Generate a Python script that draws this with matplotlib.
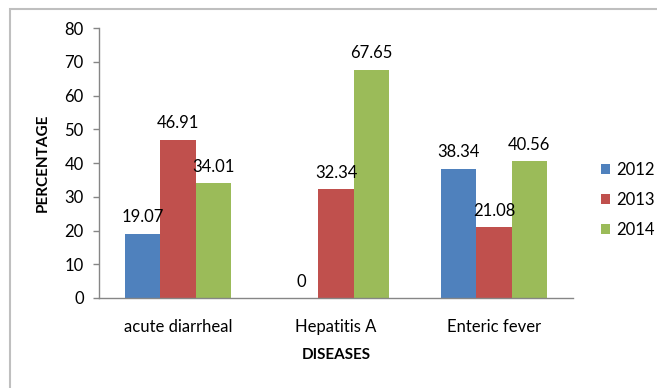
import matplotlib
matplotlib.use("Agg")
import matplotlib.pyplot as plt
from matplotlib.patches import Rectangle
import numpy as np

plt.rcParams['font.family'] = ['Lato', 'DejaVu Sans']

categories = ["acute diarrheal", "Hepatitis A", "Enteric fever"]
years = ["2012", "2013", "2014"]
values_2012 = [19.07, 0, 38.34]
values_2013 = [46.91, 32.34, 21.08]
values_2014 = [34.01, 67.65, 40.56]
y_ticks = [0, 10, 20, 30, 40, 50, 60, 70, 80]

series = [values_2012, values_2013, values_2014]
colors = ["#4F81BD", "#C0504D", "#9BBB59"]
axis_gray = "#868686"
fs = 12

fig = plt.figure(figsize=(6.57, 3.88), dpi=100)
ax = fig.add_axes([99/657, 1 - 298/388, 474/657, 270/388])

x = np.arange(len(categories))
width = 0.667 / 3
for i, (vals, col, yr) in enumerate(zip(series, colors, years)):
    pos = x + (i - 1) * width
    bars = ax.bar(pos, vals, width, color=col, label=yr, linewidth=0)
    for b, v in zip(bars, vals):
        ax.annotate(f"{v:g}", (b.get_x() + b.get_width() / 2, v),
                    xytext=(0, 6), textcoords="offset points",
                    ha="center", va="bottom", fontsize=fs, color="#000000")

ax.set_xlim(-0.5, 2.5)
ax.set_ylim(0, 80)
ax.set_yticks(y_ticks)
ax.set_xticks(x)
ax.set_xticklabels(categories)

for s in ("top", "right"):
    ax.spines[s].set_visible(False)
for s in ("left", "bottom"):
    ax.spines[s].set_color(axis_gray)
    ax.spines[s].set_linewidth(1.0)

ax.tick_params(axis="y", direction="out", length=4, width=1, color=axis_gray,
               labelsize=fs, pad=7)
ax.tick_params(axis="x", length=0, labelsize=fs, pad=15)

ax.set_ylabel("PERCENTAGE", fontsize=fs - 1, fontweight="bold")
ax.yaxis.set_label_coords(-0.103, 0.5)
ax.set_xlabel("DISEASES", fontsize=fs - 1, fontweight="bold")
ax.xaxis.set_label_coords(0.5, -0.185)

ax.legend(loc="center left", bbox_to_anchor=(601/657, 1 - 200/388),
          bbox_transform=fig.transFigure, frameon=False, borderpad=0,
          borderaxespad=0, fontsize=fs, handlelength=0.55, handleheight=0.55,
          handletextpad=0.35, labelspacing=0.85)

fig.patches.append(Rectangle((10/657, -0.1), 2, 1.1 - 9/388, transform=fig.transFigure,
                             fill=False, edgecolor="#BFBFBF", linewidth=1.5))

fig.savefig("out.png", dpi=100)
